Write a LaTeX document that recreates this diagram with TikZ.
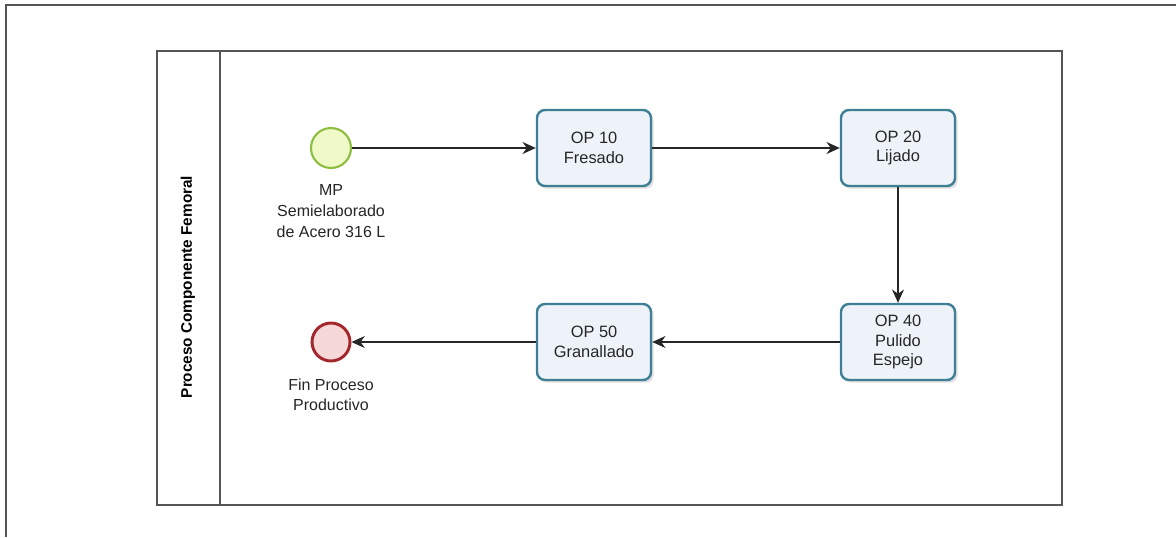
\documentclass[tikz,border=0pt]{standalone}
\usepackage{fontspec}
\setmainfont{Liberation Sans}
\usetikzlibrary{arrows.meta,shadows}
\definecolor{taskborder}{HTML}{3E7F96}
\definecolor{taskfill}{HTML}{EEF3FA}
\definecolor{startborder}{HTML}{8CBF3F}
\definecolor{startfill}{HTML}{F0F9C8}
\definecolor{endborder}{HTML}{A3262B}
\definecolor{endfill}{HTML}{F6D8D8}
\definecolor{framegray}{HTML}{555555}
\begin{document}
\begin{tikzpicture}[x=0.75pt,y=-0.75pt,
  task/.style={draw=taskborder,fill=taskfill,line width=1.8pt,rounded corners=6pt,
    minimum width=114*0.75pt,minimum height=76*0.75pt,align=center,
    font=\fontsize{12.3}{14.5}\selectfont,text=black!85,
    drop shadow={shadow xshift=2pt,shadow yshift=-2pt,opacity=0.25}},
  startev/.style={circle,draw=startborder,fill=startfill,line width=1.6pt,minimum size=40*0.75pt,inner sep=0pt},
  endev/.style={circle,draw=endborder,fill=endfill,line width=2.2pt,minimum size=38*0.75pt,inner sep=0pt},
  lbl/.style={align=center,font=\fontsize{12}{15.5}\selectfont,text=black!85},
  flow/.style={draw=black!85,line width=0.9pt,-{Stealth[length=10pt,width=9pt]}}]
\useasboundingbox (0,0) rectangle (1176,537);
% outer frame lines
\draw[framegray,line width=1.2pt] (6,537) -- (6,5) -- (1176,5);
% pool
\draw[framegray,line width=1.2pt] (157,51) rectangle (1062,505);
\draw[framegray,line width=1.2pt] (220,51) -- (220,505);
\node[rotate=90,font=\bfseries\fontsize{11.5}{13}\selectfont] (lane) at (188,287) {Proceso Componente Femoral};
% events
\node[startev] (start) at (331,148) {};
\node[lbl,anchor=north] (startlbl) at (331,180) {MP\\Semielaborado\\de Acero 316 L};
\node[endev] (end) at (331,342) {};
\node[lbl,anchor=north] (endlbl) at (331,374) {Fin Proceso\\Productivo};
% tasks
\node[task] (op10) at (594,148) {OP 10\\Fresado};
\node[task] (op20) at (898,148) {OP 20\\Lijado};
\node[task] (op40) at (898,342) {OP 40\\Pulido\\Espejo};
\node[task] (op50) at (594,342) {OP 50\\Granallado};
% flows
\draw[flow] (start) -- (op10);
\draw[flow] (op10) -- (op20);
\draw[flow] (op20) -- (op40);
\draw[flow] (op40) -- (op50);
\draw[flow] (op50) -- (end);
\end{tikzpicture}
\end{document}
